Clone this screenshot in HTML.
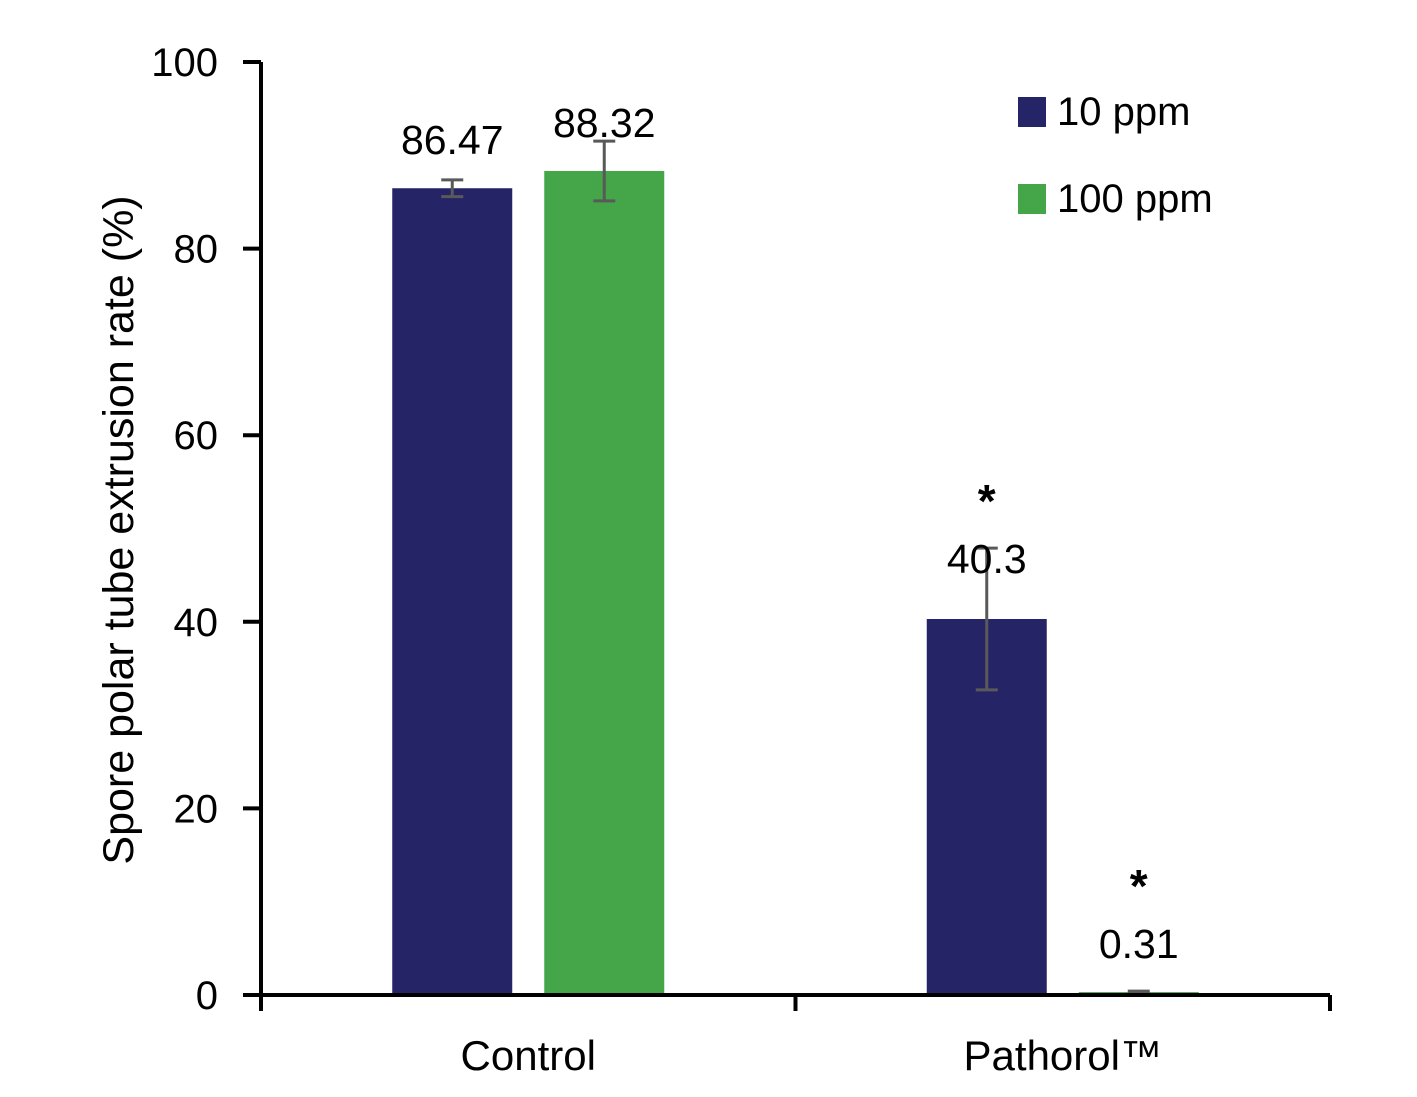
<!DOCTYPE html>
<html><head><meta charset="utf-8"><style>
body{margin:0;background:#fff}
svg{display:block;font-family:"Liberation Sans",sans-serif}
</style></head><body>
<svg id="chart" width="1417" height="1097" viewBox="0 0 1417 1097">
<g id="g"></g>
</svg>
<script>
const categories = ["Control", "Pathorol™"];
const seriesNames = ["10 ppm", "100 ppm"];
const values10 = [86.47, 40.3];
const values100 = [88.32, 0.31];
const errors10 = [0.9, 7.6];
const errors100 = [3.2, 0.1];
const labels10 = ["86.47", "40.3"];
const labels100 = ["88.32", "0.31"];
const sig10 = [false, true];
const sig100 = [false, true];
const yTicks = [0, 20, 40, 60, 80, 100];

const NS = "http://www.w3.org/2000/svg";
const g = document.getElementById("g");
const x0 = 261, x1 = 1330, yBase = 995, yTop = 62;
const y = v => yBase - (v / 100) * (yBase - yTop);
const catW = (x1 - x0) / categories.length;
const catC = i => x0 + catW * (i + 0.5);
const colors = ["#252466", "#44a648"];
function el(tag, attrs, text) {
  const e = document.createElementNS(NS, tag);
  for (const k in attrs) e.setAttribute(k, attrs[k]);
  if (text !== undefined) e.textContent = text;
  g.appendChild(e);
  return e;
}
const series = [values10, values100], errs = [errors10, errors100], labs = [labels10, labels100], sigs = [sig10, sig100];
const barW = 120, gap = 32;
categories.forEach((c, i) => {
  series.forEach((vals, s) => {
    const bx = catC(i) + (s === 0 ? -gap / 2 - barW : gap / 2);
    const r = el("rect", {x: bx, y: y(vals[i]), width: barW, height: yBase - y(vals[i]), fill: colors[s]});
    
    
    const cx = bx + barW / 2, e = errs[s][i];
    const eb = el("path", {d: `M${cx},${y(vals[i] + e)}V${y(vals[i] - e)}M${cx - 11},${y(vals[i] + e)}h22M${cx - 11},${y(vals[i] - e)}h22`, stroke: "#595959", "stroke-width": 3, fill: "none"});
    
    
    const ly = y(vals[i]) - (sigs[s][i] && vals[i] > 10 ? 46 : 34);
    const t = el("text", {x: cx, y: ly, "text-anchor": "middle", "font-size": 41, fill: "#000"}, labs[s][i]);
    
    
    if (sigs[s][i]) {
      const a = el("text", {x: cx, y: ly - 56, "text-anchor": "middle", "font-size": 46, "font-weight": "bold", fill: "#000"}, "*");
      
      
    }
  });
  const cl = el("text", {x: catC(i), y: 1070, "text-anchor": "middle", "font-size": 42, fill: "#000"}, c);
  
  
});
const ya = el("path", {d: `M${x0},${yTop}V${yBase}`, stroke: "#000", "stroke-width": 4});


yTicks.forEach(v => {
  el("path", {d: `M243,${y(v)}H${x0}`, stroke: "#000", "stroke-width": 4});
  const t = el("text", {x: 218, y: y(v) + 14, "text-anchor": "end", "font-size": 40, fill: "#000"}, v);
  
  
});
const xa = el("path", {d: `M${x0 - 2},${yBase}H${x1}`, stroke: "#000", "stroke-width": 4});


for (let i = 0; i <= categories.length; i++) el("path", {d: `M${x0 + catW * i},${yBase}V1011`, stroke: "#000", "stroke-width": 4});
const yt = el("text", {x: 0, y: 0, transform: "translate(133,530) rotate(-90)", "text-anchor": "middle", "font-size": 43, fill: "#000"}, "Spore polar tube extrusion rate (%)");


seriesNames.forEach((n, s) => {
  const ly = 97 + s * 87;
  const r = el("rect", {x: 1018, y: ly, width: 28, height: 30, fill: colors[s]});
  
  
  const t = el("text", {x: 1057, y: ly + 28, "font-size": 40, fill: "#000"}, n);
  
  
});
</script>
</body></html>
